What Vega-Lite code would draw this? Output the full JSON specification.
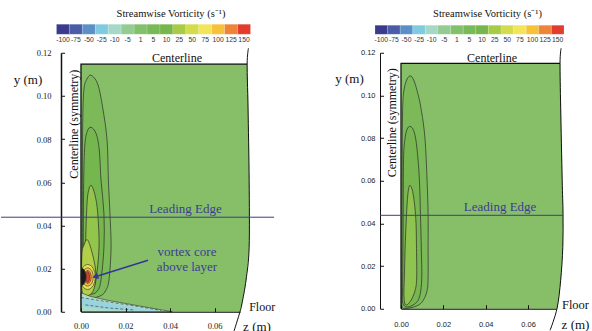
{
"$schema": "https://vega.github.io/schema/vega-lite/v6.json",
"background": "white",
"padding": {"left": 0, "top": 7.75, "right": 0, "bottom": 0},
"bounds": "flush",
"spacing": 161,
"config": {"view": {"stroke": null}, "axis": {"grid": false, "domainColor": "#111", "tickColor": "#111", "labelColor": "#222", "titleColor": "#111", "titleFontWeight": "normal", "labelFlush": false, "labelOverlap": false, "labelBound": false}},
"datasets": {
"cb": [{"level":"-100"},{"level":"-75"},{"level":"-50"},{"level":"-25"},{"level":"-10"},{"level":"-5"},{"level":"1"},{"level":"5"},{"level":"10"},{"level":"25"},{"level":"50"},{"level":"75"},{"level":"100"},{"level":"125"},{"level":"150"}],
"regionL": [{"i":0,"z":0,"y":0},{"i":1,"z":0,"y":0.1147},{"i":2,"z":0.0746,"y":0.1147},{"i":3,"z":0.0750,"y":0.0948},{"i":4,"z":0.0755,"y":0.0609},{"i":5,"z":0.0755,"y":0.0299},{"i":6,"z":0.0741,"y":0.0146},{"i":7,"z":0.0723,"y":0.0039},{"i":8,"z":0.0714,"y":0}],
"regionR": [{"i":0,"z":0,"y":0},{"i":1,"z":0,"y":0.1150},{"i":2,"z":0.0751,"y":0.1150},{"i":3,"z":0.0754,"y":0.0945},{"i":4,"z":0.0761,"y":0.0607},{"i":5,"z":0.0765,"y":0.0448},{"i":6,"z":0.0764,"y":0.0288},{"i":7,"z":0.0754,"y":0.0134},{"i":8,"z":0.0737,"y":0}],
"polyL": [
{"id":"L1","i":0,"z":0.0010,"y":0.0080},{"id":"L1","i":1,"z":0.0045,"y":0.0064},{"id":"L1","i":2,"z":0.0090,"y":0.0075},{"id":"L1","i":3,"z":0.0112,"y":0.0100},{"id":"L1","i":4,"z":0.0126,"y":0.0150},{"id":"L1","i":5,"z":0.0135,"y":0.0299},{"id":"L1","i":6,"z":0.0130,"y":0.0456},{"id":"L1","i":7,"z":0.0123,"y":0.0609},{"id":"L1","i":8,"z":0.0117,"y":0.0796},{"id":"L1","i":9,"z":0.0097,"y":0.0948},{"id":"L1","i":10,"z":0.0075,"y":0.1055},{"id":"L1","i":11,"z":0.0045,"y":0.1096},{"id":"L1","i":12,"z":0.0025,"y":0.1075},{"id":"L1","i":13,"z":0.0013,"y":0.1030},{"id":"L1","i":14,"z":0.0008,"y":0.0900},{"id":"L1","i":15,"z":0.0006,"y":0.0600},{"id":"L1","i":16,"z":0.0006,"y":0.0300},{"id":"L1","i":17,"z":0.0007,"y":0.0120},
{"id":"L2","i":0,"z":0.0014,"y":0.0090},{"id":"L2","i":1,"z":0.0050,"y":0.0082},{"id":"L2","i":2,"z":0.0076,"y":0.0100},{"id":"L2","i":3,"z":0.0090,"y":0.0150},{"id":"L2","i":4,"z":0.0103,"y":0.0299},{"id":"L2","i":5,"z":0.0103,"y":0.0456},{"id":"L2","i":6,"z":0.0090,"y":0.0609},{"id":"L2","i":7,"z":0.0082,"y":0.0750},{"id":"L2","i":8,"z":0.0068,"y":0.0825},{"id":"L2","i":9,"z":0.0045,"y":0.0855},{"id":"L2","i":10,"z":0.0028,"y":0.0835},{"id":"L2","i":11,"z":0.0017,"y":0.0770},{"id":"L2","i":12,"z":0.0012,"y":0.0600},{"id":"L2","i":13,"z":0.0010,"y":0.0300},{"id":"L2","i":14,"z":0.0010,"y":0.0140},
{"id":"L3","i":0,"z":0.0022,"y":0.0100},{"id":"L3","i":1,"z":0.0050,"y":0.0105},{"id":"L3","i":2,"z":0.0067,"y":0.0150},{"id":"L3","i":3,"z":0.0081,"y":0.0299},{"id":"L3","i":4,"z":0.0075,"y":0.0456},{"id":"L3","i":5,"z":0.0063,"y":0.0540},{"id":"L3","i":6,"z":0.0045,"y":0.0586},{"id":"L3","i":7,"z":0.0031,"y":0.0545},{"id":"L3","i":8,"z":0.0025,"y":0.0456},{"id":"L3","i":9,"z":0.0020,"y":0.0299},{"id":"L3","i":10,"z":0.0017,"y":0.0160},
{"id":"L4","i":0,"z":0.0004,"y":0.0100},{"id":"L4","i":1,"z":0.0027,"y":0.0075},{"id":"L4","i":2,"z":0.0054,"y":0.0095},{"id":"L4","i":3,"z":0.0067,"y":0.0160},{"id":"L4","i":4,"z":0.0058,"y":0.0239},{"id":"L4","i":5,"z":0.0031,"y":0.0331},{"id":"L4","i":6,"z":0.0013,"y":0.0308},{"id":"L4","i":7,"z":0.0004,"y":0.0262},
{"id":"PB","i":0,"z":0,"y":0.0088},{"id":"PB","i":1,"z":0.004,"y":0.0072},{"id":"PB","i":2,"z":0.012,"y":0.0053},{"id":"PB","i":3,"z":0.024,"y":0.0031},{"id":"PB","i":4,"z":0.036,"y":0.0009},{"id":"PB","i":5,"z":0.041,"y":0},{"id":"PB","i":6,"z":0,"y":0},
{"id":"BW","i":0,"z":0.0008,"y":0.0062},{"id":"BW","i":1,"z":0.008,"y":0.0047},{"id":"BW","i":2,"z":0.018,"y":0.0030},{"id":"BW","i":3,"z":0.028,"y":0.0014},{"id":"BW","i":4,"z":0.034,"y":0.0004},{"id":"BW","i":5,"z":0.026,"y":0.0006},{"id":"BW","i":6,"z":0.014,"y":0.0011},{"id":"BW","i":7,"z":0.005,"y":0.0019},{"id":"BW","i":8,"z":0.0008,"y":0.0030},
{"id":"E1","i":0,"z":0.0064,"y":0.0161},{"id":"E1","i":1,"z":0.0054,"y":0.0202},{"id":"E1","i":2,"z":0.0030,"y":0.0219},{"id":"E1","i":3,"z":0.0006,"y":0.0202},{"id":"E1","i":4,"z":0.0002,"y":0.0161},{"id":"E1","i":5,"z":0.0006,"y":0.0120},{"id":"E1","i":6,"z":0.0030,"y":0.0103},{"id":"E1","i":7,"z":0.0054,"y":0.0120},
{"id":"E2","i":0,"z":0.0055,"y":0.0161},{"id":"E2","i":1,"z":0.0048,"y":0.0191},{"id":"E2","i":2,"z":0.0030,"y":0.0203},{"id":"E2","i":3,"z":0.0012,"y":0.0191},{"id":"E2","i":4,"z":0.0005,"y":0.0161},{"id":"E2","i":5,"z":0.0012,"y":0.0131},{"id":"E2","i":6,"z":0.0030,"y":0.0119},{"id":"E2","i":7,"z":0.0048,"y":0.0131},
{"id":"E3","i":0,"z":0.0046,"y":0.0161},{"id":"E3","i":1,"z":0.0041,"y":0.0182},{"id":"E3","i":2,"z":0.0030,"y":0.0191},{"id":"E3","i":3,"z":0.0019,"y":0.0182},{"id":"E3","i":4,"z":0.0014,"y":0.0161},{"id":"E3","i":5,"z":0.0019,"y":0.0140},{"id":"E3","i":6,"z":0.0030,"y":0.0131},{"id":"E3","i":7,"z":0.0041,"y":0.0140},
{"id":"E4","i":0,"z":0.0038,"y":0.0161},{"id":"E4","i":1,"z":0.0036,"y":0.0178},{"id":"E4","i":2,"z":0.0030,"y":0.0185},{"id":"E4","i":3,"z":0.0024,"y":0.0178},{"id":"E4","i":4,"z":0.0022,"y":0.0161},{"id":"E4","i":5,"z":0.0024,"y":0.0144},{"id":"E4","i":6,"z":0.0030,"y":0.0137},{"id":"E4","i":7,"z":0.0036,"y":0.0144},
{"id":"DK","i":0,"z":0.0004,"y":0.0196},{"id":"DK","i":1,"z":0.0016,"y":0.0190},{"id":"DK","i":2,"z":0.0022,"y":0.0161},{"id":"DK","i":3,"z":0.0016,"y":0.0134},{"id":"DK","i":4,"z":0.0004,"y":0.0127}
],
"polyR": [
{"id":"R1","i":0,"z":0.0005,"y":0.0010},{"id":"R1","i":1,"z":0.0028,"y":0.0002},{"id":"R1","i":2,"z":0.0076,"y":0.0014},{"id":"R1","i":3,"z":0.0104,"y":0.0038},{"id":"R1","i":4,"z":0.0123,"y":0.0084},{"id":"R1","i":5,"z":0.0128,"y":0.0145},{"id":"R1","i":6,"z":0.0128,"y":0.0286},{"id":"R1","i":7,"z":0.0128,"y":0.0445},{"id":"R1","i":8,"z":0.0123,"y":0.0605},{"id":"R1","i":9,"z":0.0113,"y":0.0802},{"id":"R1","i":10,"z":0.0094,"y":0.0942},{"id":"R1","i":11,"z":0.0076,"y":0.1022},{"id":"R1","i":12,"z":0.0060,"y":0.1072},{"id":"R1","i":13,"z":0.0043,"y":0.1092},{"id":"R1","i":14,"z":0.0025,"y":0.1068},{"id":"R1","i":15,"z":0.0012,"y":0.1010},{"id":"R1","i":16,"z":0.0007,"y":0.0900},{"id":"R1","i":17,"z":0.0005,"y":0.0600},{"id":"R1","i":18,"z":0.0004,"y":0.0300},{"id":"R1","i":19,"z":0.0004,"y":0.0080},
{"id":"R2","i":0,"z":0.0008,"y":0.0030},{"id":"R2","i":1,"z":0.0030,"y":0.0008},{"id":"R2","i":2,"z":0.0072,"y":0.0028},{"id":"R2","i":3,"z":0.0090,"y":0.0066},{"id":"R2","i":4,"z":0.0098,"y":0.0145},{"id":"R2","i":5,"z":0.0096,"y":0.0280},{"id":"R2","i":6,"z":0.0092,"y":0.0440},{"id":"R2","i":7,"z":0.0088,"y":0.0580},{"id":"R2","i":8,"z":0.0082,"y":0.0680},{"id":"R2","i":9,"z":0.0072,"y":0.0780},{"id":"R2","i":10,"z":0.0060,"y":0.0835},{"id":"R2","i":11,"z":0.0043,"y":0.0855},{"id":"R2","i":12,"z":0.0028,"y":0.0840},{"id":"R2","i":13,"z":0.0018,"y":0.0790},{"id":"R2","i":14,"z":0.0012,"y":0.0700},{"id":"R2","i":15,"z":0.0010,"y":0.0400},{"id":"R2","i":16,"z":0.0008,"y":0.0120},
{"id":"R3","i":0,"z":0.0014,"y":0.0060},{"id":"R3","i":1,"z":0.0022,"y":0.0018},{"id":"R3","i":2,"z":0.0045,"y":0.0036},{"id":"R3","i":3,"z":0.0066,"y":0.0084},{"id":"R3","i":4,"z":0.0074,"y":0.0145},{"id":"R3","i":5,"z":0.0073,"y":0.0300},{"id":"R3","i":6,"z":0.0071,"y":0.0400},{"id":"R3","i":7,"z":0.0065,"y":0.0480},{"id":"R3","i":8,"z":0.0055,"y":0.0550},{"id":"R3","i":9,"z":0.0043,"y":0.0578},{"id":"R3","i":10,"z":0.0036,"y":0.0562},{"id":"R3","i":11,"z":0.0031,"y":0.0520},{"id":"R3","i":12,"z":0.0026,"y":0.0440},{"id":"R3","i":13,"z":0.0020,"y":0.0300},{"id":"R3","i":14,"z":0.0016,"y":0.0150}
],
"dashL": [{"id":"D1","i":0,"z":0,"y":0.0066},{"id":"D1","i":1,"z":0.012,"y":0.0046},{"id":"D1","i":2,"z":0.024,"y":0.0027},{"id":"D1","i":3,"z":0.036,"y":0.0006},{"id":"D2","i":0,"z":0.002,"y":0.0032},{"id":"D2","i":1,"z":0.012,"y":0.0018},{"id":"D2","i":2,"z":0.024,"y":0.0008}],
"wallL": [{"i":0,"z":0,"y":0},{"i":1,"z":0,"y":0.1147},{"i":2,"z":0.0746,"y":0.1147}],
"edgeL": [{"i":0,"z":0.0752,"y":0.1221},{"i":1,"z":0.0746,"y":0.1147},{"i":2,"z":0.0750,"y":0.0948},{"i":3,"z":0.0755,"y":0.0609},{"i":4,"z":0.0755,"y":0.0299},{"i":5,"z":0.0741,"y":0.0146},{"i":6,"z":0.0723,"y":0.0039},{"i":7,"z":0.0714,"y":0},{"i":8,"z":0.0687,"y":-0.0090}],
"wallR": [{"i":0,"z":0,"y":0},{"i":1,"z":0,"y":0.1150},{"i":2,"z":0.0751,"y":0.1150}],
"edgeR": [{"i":0,"z":0.0756,"y":0.1221},{"i":1,"z":0.0751,"y":0.1151},{"i":2,"z":0.0754,"y":0.0945},{"i":3,"z":0.0761,"y":0.0607},{"i":4,"z":0.0765,"y":0.0448},{"i":5,"z":0.0764,"y":0.0288},{"i":6,"z":0.0754,"y":0.0134},{"i":7,"z":0.0737,"y":0.0002},{"i":8,"z":0.0704,"y":-0.0101}]
},
"hconcat": [
{
"width": 159, "height": 259,
"resolve": {"scale": {"x": "independent", "y": "independent"}},
"layer": [
{
"data": {"name": "cb"},
"mark": {"type": "rect", "stroke": "#ffffff", "strokeWidth": 0.3, "strokeOpacity": 0.5},
"encoding": {
"x": {"field": "level", "type": "ordinal", "sort": null, "scale": {"range": [-24.5, 169.5], "paddingInner": 0, "paddingOuter": 0},
 "axis": {"orient": "top", "ticks": false, "domain": false, "labelAngle": 0, "labelPadding": 10, "labelFont": "Liberation Sans", "labelFontSize": 6.8, "labelColor": "#333", "title": "Streamwise Vorticity (s⁻¹)", "titleFont": "Liberation Serif", "titleFontSize": 10.5, "titleX": 89.5, "titleY": -39.5, "titleAlign": "center", "titleBaseline": "middle", "titleAngle": 0}},
"y": {"datum": "bar", "type": "nominal", "scale": {"range": [-28.5, -18.5], "paddingInner": 0, "paddingOuter": 0}, "axis": null},
"color": {"field": "level", "type": "ordinal", "sort": null, "legend": null, "scale": {"domain": ["-100","-75","-50","-25","-10","-5","1","5","10","25","50","75","100","125","150"], "range": ["#3b3a8c","#4a5ca8","#5a8fc7","#80cbe1","#a5d8c6","#93cb90","#83c06c","#79ba58","#76b64c","#a8cb45","#d2dc4c","#f2e55a","#f8c13a","#ef8338","#e23c2e"]}}
}
},
{
"layer": [
{
"data": {"name": "regionL"},
"mark": {"type": "line", "interpolate": "linear-closed", "fill": "#87bf69", "stroke": "#87bf69", "strokeWidth": 0.5},
"encoding": {
"x": {"field": "z", "type": "quantitative", "scale": {"domain": [0, 0.0714], "nice": false, "zero": false},
 "axis": {"values": [0, 0.02, 0.04, 0.06], "format": ".2f", "tickSize": -4, "labelPadding": 14, "labelFont": "Liberation Serif", "labelFontSize": 8.5, "zindex": 1, "title": "z (m)", "titleFont": "Liberation Serif", "titleFontSize": 13, "titleX": 175.5, "titleY": 15, "titleAlign": "center", "titleBaseline": "middle", "titleAngle": 0}},
"y": {"field": "y", "type": "quantitative", "scale": {"domain": [0, 0.12], "nice": false, "zero": false},
 "axis": {"offset": 20, "values": [0,0.005,0.01,0.015,0.02,0.025,0.03,0.035,0.04,0.045,0.05,0.055,0.06,0.065,0.07,0.075,0.08,0.085,0.09,0.095,0.1,0.105,0.11,0.115,0.12], "labelExpr": "(round(datum.value*1000) % 20 == 0) ? format(datum.value, '.2f') : ''", "tickSize": -3.5, "labelPadding": 13.5, "labelFont": "Liberation Serif", "labelFontSize": 8.5, "domainWidth": 1.5, "title": "y (m)", "titleFont": "Liberation Serif", "titleFontSize": 13, "titleX": -33.5, "titleY": 26.5, "titleAlign": "center", "titleBaseline": "middle", "titleAngle": 0}},
"order": {"field": "i", "type": "quantitative"}
}
},
{"data": {"name": "polyL"}, "transform": [{"filter": "datum.id == 'L1'"}], "mark": {"type": "line", "interpolate": "cardinal-closed", "fill": "#7bb959", "stroke": "#2a2a2a", "strokeWidth": 0.7}, "encoding": {"x": {"field": "z", "type": "quantitative"}, "y": {"field": "y", "type": "quantitative"}, "order": {"field": "i", "type": "quantitative"}}},
{"data": {"name": "polyL"}, "transform": [{"filter": "datum.id == 'L2'"}], "mark": {"type": "line", "interpolate": "cardinal-closed", "fill": "#76b64e", "stroke": "#2a2a2a", "strokeWidth": 0.7}, "encoding": {"x": {"field": "z", "type": "quantitative"}, "y": {"field": "y", "type": "quantitative"}, "order": {"field": "i", "type": "quantitative"}}},
{"data": {"name": "polyL"}, "transform": [{"filter": "datum.id == 'L3'"}], "mark": {"type": "line", "interpolate": "cardinal-closed", "fill": "#93c44c", "stroke": "#2a2a2a", "strokeWidth": 0.7}, "encoding": {"x": {"field": "z", "type": "quantitative"}, "y": {"field": "y", "type": "quantitative"}, "order": {"field": "i", "type": "quantitative"}}},
{"data": {"name": "polyL"}, "transform": [{"filter": "datum.id == 'L4'"}], "mark": {"type": "line", "interpolate": "cardinal-closed", "fill": "#b2cf4a", "stroke": "#2a2a2a", "strokeWidth": 0.7}, "encoding": {"x": {"field": "z", "type": "quantitative"}, "y": {"field": "y", "type": "quantitative"}, "order": {"field": "i", "type": "quantitative"}}},
{"data": {"name": "polyL"}, "transform": [{"filter": "datum.id == 'PB'"}], "mark": {"type": "line", "interpolate": "linear-closed", "fill": "#aedbc6", "stroke": "#333333", "strokeWidth": 0.6}, "encoding": {"x": {"field": "z", "type": "quantitative"}, "y": {"field": "y", "type": "quantitative"}, "order": {"field": "i", "type": "quantitative"}}},
{"data": {"name": "polyL"}, "transform": [{"filter": "datum.id == 'BW'"}], "mark": {"type": "line", "interpolate": "cardinal-closed", "fill": "#98d4e0", "stroke": "#98d4e0", "strokeWidth": 0.3}, "encoding": {"x": {"field": "z", "type": "quantitative"}, "y": {"field": "y", "type": "quantitative"}, "order": {"field": "i", "type": "quantitative"}}},
{"data": {"name": "dashL"}, "mark": {"type": "line", "stroke": "#333333", "strokeWidth": 0.6, "strokeDash": [3, 2]}, "encoding": {"x": {"field": "z", "type": "quantitative"}, "y": {"field": "y", "type": "quantitative"}, "detail": {"field": "id"}, "order": {"field": "i", "type": "quantitative"}}},
{"data": {"name": "polyL"}, "transform": [{"filter": "datum.id == 'E1'"}], "mark": {"type": "line", "interpolate": "cardinal-closed", "fill": "#e6e05a", "stroke": "#2a2a2a", "strokeWidth": 0.6}, "encoding": {"x": {"field": "z", "type": "quantitative"}, "y": {"field": "y", "type": "quantitative"}, "order": {"field": "i", "type": "quantitative"}}},
{"data": {"name": "polyL"}, "transform": [{"filter": "datum.id == 'E2'"}], "mark": {"type": "line", "interpolate": "cardinal-closed", "fill": "#f5c040", "stroke": "#2a2a2a", "strokeWidth": 0.6}, "encoding": {"x": {"field": "z", "type": "quantitative"}, "y": {"field": "y", "type": "quantitative"}, "order": {"field": "i", "type": "quantitative"}}},
{"data": {"name": "polyL"}, "transform": [{"filter": "datum.id == 'E3'"}], "mark": {"type": "line", "interpolate": "cardinal-closed", "fill": "#ee8a3a", "stroke": "#2a2a2a", "strokeWidth": 0.6}, "encoding": {"x": {"field": "z", "type": "quantitative"}, "y": {"field": "y", "type": "quantitative"}, "order": {"field": "i", "type": "quantitative"}}},
{"data": {"name": "polyL"}, "transform": [{"filter": "datum.id == 'E4'"}], "mark": {"type": "line", "interpolate": "cardinal-closed", "fill": "#e23c2e", "stroke": "#2a2a2a", "strokeWidth": 0.6}, "encoding": {"x": {"field": "z", "type": "quantitative"}, "y": {"field": "y", "type": "quantitative"}, "order": {"field": "i", "type": "quantitative"}}},
{"data": {"name": "polyL"}, "transform": [{"filter": "datum.id == 'DK'"}], "mark": {"type": "line", "interpolate": "cardinal-closed", "fill": "#1a1a1a", "stroke": "#1a1a1a", "strokeWidth": 0.6}, "encoding": {"x": {"field": "z", "type": "quantitative"}, "y": {"field": "y", "type": "quantitative"}, "order": {"field": "i", "type": "quantitative"}}},
{"data": {"name": "wallL"}, "mark": {"type": "line", "stroke": "#111111", "strokeWidth": 1.3}, "encoding": {"x": {"field": "z", "type": "quantitative"}, "y": {"field": "y", "type": "quantitative"}, "order": {"field": "i", "type": "quantitative"}}},
{"data": {"name": "edgeL"}, "mark": {"type": "line", "interpolate": "cardinal", "stroke": "#111111", "strokeWidth": 1}, "encoding": {"x": {"field": "z", "type": "quantitative"}, "y": {"field": "y", "type": "quantitative"}, "order": {"field": "i", "type": "quantitative"}}},
{"data": {"values": [{"z1": -0.0359, "z2": 0.0867, "y": 0.0438}]}, "mark": {"type": "rule", "stroke": "#3c3c8a", "strokeWidth": 1}, "encoding": {"x": {"field": "z1", "type": "quantitative"}, "x2": {"field": "z2"}, "y": {"field": "y", "type": "quantitative"}}},
{"data": {"values": [{"t": "Centerline", "z": 0.0431, "y": 0.1175}]}, "mark": {"type": "text", "font": "Liberation Serif", "fontSize": 12, "color": "#111111", "align": "center", "baseline": "middle"}, "encoding": {"text": {"field": "t"}, "x": {"field": "z", "type": "quantitative"}, "y": {"field": "y", "type": "quantitative"}}},
{"data": {"values": [{"t": "Floor", "z": 0.0755, "y": 0.0021}]}, "mark": {"type": "text", "font": "Liberation Serif", "fontSize": 12, "color": "#111111", "align": "left", "baseline": "middle"}, "encoding": {"text": {"field": "t"}, "x": {"field": "z", "type": "quantitative"}, "y": {"field": "y", "type": "quantitative"}}},
{"data": {"values": [{"t": "Centerline (symmetry)", "z": -0.0031, "y": 0.0869}]}, "mark": {"type": "text", "font": "Liberation Serif", "fontSize": 12, "color": "#111111", "align": "center", "baseline": "middle", "angle": 270}, "encoding": {"text": {"field": "t"}, "x": {"field": "z", "type": "quantitative"}, "y": {"field": "y", "type": "quantitative"}}},
{"data": {"values": [{"t": "Leading Edge", "z": 0.0469, "y": 0.0475}, {"t": "vortex core", "z": 0.0476, "y": 0.0277}, {"t": "above layer", "z": 0.0476, "y": 0.0206}]}, "mark": {"type": "text", "font": "Liberation Serif", "fontSize": 13, "color": "#3c3c96", "align": "center", "baseline": "middle"}, "encoding": {"text": {"field": "t"}, "x": {"field": "z", "type": "quantitative"}, "y": {"field": "y", "type": "quantitative"}}},
{"data": {"values": [{"i": 0, "z": 0.0301, "y": 0.0239}, {"i": 1, "z": 0.0075, "y": 0.0166}]}, "mark": {"type": "line", "stroke": "#34349a", "strokeWidth": 1.5}, "encoding": {"x": {"field": "z", "type": "quantitative"}, "y": {"field": "y", "type": "quantitative"}, "order": {"field": "i", "type": "quantitative"}}},
{"data": {"values": [{"z": 0.0068, "y": 0.0164}]}, "mark": {"type": "point", "shape": "triangle", "filled": true, "color": "#34349a", "opacity": 1, "size": 45, "angle": 252}, "encoding": {"x": {"field": "z", "type": "quantitative"}, "y": {"field": "y", "type": "quantitative"}}}
]
}
]
},
{
"width": 155, "height": 256,
"resolve": {"scale": {"x": "independent", "y": "independent"}},
"layer": [
{
"data": {"name": "cb"},
"mark": {"type": "rect", "stroke": "#ffffff", "strokeWidth": 0.3, "strokeOpacity": 0.5},
"encoding": {
"x": {"field": "level", "type": "ordinal", "sort": null, "scale": {"range": [-26, 163], "paddingInner": 0, "paddingOuter": 0},
 "axis": {"orient": "top", "ticks": false, "domain": false, "labelAngle": 0, "labelPadding": 10, "labelFont": "Liberation Sans", "labelFontSize": 6.8, "labelColor": "#333", "title": "Streamwise Vorticity (s⁻¹)", "titleFont": "Liberation Serif", "titleFontSize": 10.5, "titleX": 86, "titleY": -39.5, "titleAlign": "center", "titleBaseline": "middle", "titleAngle": 0}},
"y": {"datum": "bar", "type": "nominal", "scale": {"range": [-27.5, -18.5], "paddingInner": 0, "paddingOuter": 0}, "axis": null},
"color": {"field": "level", "type": "ordinal", "sort": null, "legend": null, "scale": {"domain": ["-100","-75","-50","-25","-10","-5","1","5","10","25","50","75","100","125","150"], "range": ["#3b3a8c","#4a5ca8","#5a8fc7","#80cbe1","#a5d8c6","#93cb90","#83c06c","#79ba58","#76b64c","#a8cb45","#d2dc4c","#f2e55a","#f8c13a","#ef8338","#e23c2e"]}}
}
},
{
"layer": [
{
"data": {"name": "regionR"},
"mark": {"type": "line", "interpolate": "linear-closed", "fill": "#87bf69", "stroke": "#87bf69", "strokeWidth": 0.5},
"encoding": {
"x": {"field": "z", "type": "quantitative", "scale": {"domain": [0, 0.0732], "nice": false, "zero": false},
 "axis": {"values": [0, 0.02, 0.04, 0.06], "format": ".2f", "tickSize": -4, "labelPadding": 16, "labelFont": "Liberation Sans", "labelFontSize": 7.5, "zindex": 1, "title": "z (m)", "titleFont": "Liberation Serif", "titleFontSize": 13, "titleX": 174, "titleY": 15.5, "titleAlign": "center", "titleBaseline": "middle", "titleAngle": 0}},
"y": {"field": "y", "type": "quantitative", "scale": {"domain": [0, 0.12], "nice": false, "zero": false},
 "axis": {"offset": 21, "values": [0,0.005,0.01,0.015,0.02,0.025,0.03,0.035,0.04,0.045,0.05,0.055,0.06,0.065,0.07,0.075,0.08,0.085,0.09,0.095,0.1,0.105,0.11,0.115,0.12], "labelExpr": "(round(datum.value*1000) % 20 == 0) ? format(datum.value, '.2f') : ''", "tickSize": -3.5, "labelPadding": 8.5, "labelFont": "Liberation Sans", "labelFontSize": 7.5, "domainWidth": 1, "title": "y (m)", "titleFont": "Liberation Serif", "titleFontSize": 13, "titleX": -31, "titleY": 25.5, "titleAlign": "center", "titleBaseline": "middle", "titleAngle": 0}},
"order": {"field": "i", "type": "quantitative"}
}
},
{"data": {"name": "polyR"}, "transform": [{"filter": "datum.id == 'R1'"}], "mark": {"type": "line", "interpolate": "cardinal-closed", "fill": "#7bb959", "stroke": "#2a2a2a", "strokeWidth": 0.7}, "encoding": {"x": {"field": "z", "type": "quantitative"}, "y": {"field": "y", "type": "quantitative"}, "order": {"field": "i", "type": "quantitative"}}},
{"data": {"name": "polyR"}, "transform": [{"filter": "datum.id == 'R2'"}], "mark": {"type": "line", "interpolate": "cardinal-closed", "fill": "#77b650", "stroke": "#2a2a2a", "strokeWidth": 0.7}, "encoding": {"x": {"field": "z", "type": "quantitative"}, "y": {"field": "y", "type": "quantitative"}, "order": {"field": "i", "type": "quantitative"}}},
{"data": {"name": "polyR"}, "transform": [{"filter": "datum.id == 'R3'"}], "mark": {"type": "line", "interpolate": "cardinal-closed", "fill": "#8fc450", "stroke": "#2a2a2a", "strokeWidth": 0.7}, "encoding": {"x": {"field": "z", "type": "quantitative"}, "y": {"field": "y", "type": "quantitative"}, "order": {"field": "i", "type": "quantitative"}}},
{"data": {"name": "wallR"}, "mark": {"type": "line", "stroke": "#111111", "strokeWidth": 1.2}, "encoding": {"x": {"field": "z", "type": "quantitative"}, "y": {"field": "y", "type": "quantitative"}, "order": {"field": "i", "type": "quantitative"}}},
{"data": {"name": "edgeR"}, "mark": {"type": "line", "interpolate": "cardinal", "stroke": "#111111", "strokeWidth": 1}, "encoding": {"x": {"field": "z", "type": "quantitative"}, "y": {"field": "y", "type": "quantitative"}, "order": {"field": "i", "type": "quantitative"}}},
{"data": {"values": [{"z1": -0.0099, "z2": 0.0765, "y": 0.0438}]}, "mark": {"type": "rule", "stroke": "#3c3c8a", "strokeWidth": 1}, "encoding": {"x": {"field": "z1", "type": "quantitative"}, "x2": {"field": "z2"}, "y": {"field": "y", "type": "quantitative"}}},
{"data": {"values": [{"t": "Centerline", "z": 0.0430, "y": 0.1174}]}, "mark": {"type": "text", "font": "Liberation Serif", "fontSize": 12, "color": "#111111", "align": "center", "baseline": "middle"}, "encoding": {"text": {"field": "t"}, "x": {"field": "z", "type": "quantitative"}, "y": {"field": "y", "type": "quantitative"}}},
{"data": {"values": [{"t": "Floor", "z": 0.0760, "y": 0.0016}]}, "mark": {"type": "text", "font": "Liberation Serif", "fontSize": 12.5, "color": "#111111", "align": "left", "baseline": "middle"}, "encoding": {"text": {"field": "t"}, "x": {"field": "z", "type": "quantitative"}, "y": {"field": "y", "type": "quantitative"}}},
{"data": {"values": [{"t": "Centerline (symmetry)", "z": -0.0043, "y": 0.0872}]}, "mark": {"type": "text", "font": "Liberation Serif", "fontSize": 12, "color": "#111111", "align": "center", "baseline": "middle", "angle": 270}, "encoding": {"text": {"field": "t"}, "x": {"field": "z", "type": "quantitative"}, "y": {"field": "y", "type": "quantitative"}}},
{"data": {"values": [{"t": "Leading Edge", "z": 0.0468, "y": 0.0476}]}, "mark": {"type": "text", "font": "Liberation Serif", "fontSize": 13, "color": "#3c3c96", "align": "center", "baseline": "middle"}, "encoding": {"text": {"field": "t"}, "x": {"field": "z", "type": "quantitative"}, "y": {"field": "y", "type": "quantitative"}}}
]
}
]
}
]
}
